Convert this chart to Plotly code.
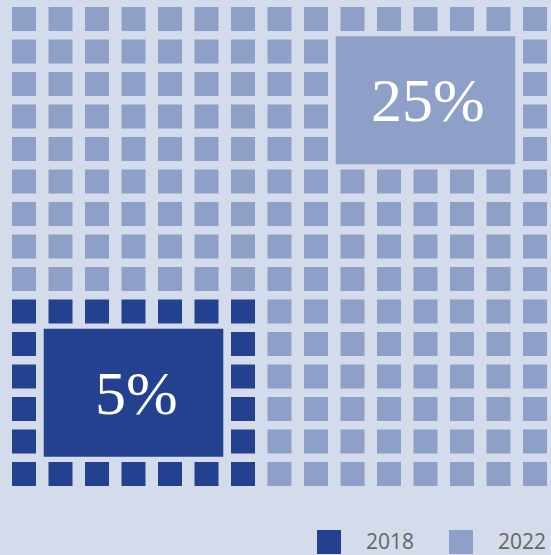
import plotly.graph_objects as go

# ---- data ----
years = ["2018", "2022"]
shares = [5, 25]               # percent labels
labels = ["5%", "25%"]
n_cols = 15
n_rows = 15
# unit blocks (column range, row range; rows counted from the top)
block_2018_cols = [0, 6]
block_2018_rows = [9, 14]
# label boxes (cell ranges)
box_2018_cols = [1, 5]
box_2018_rows = [10, 13]
box_2022_cols = [9, 13]
box_2022_rows = [1, 4]

# ---- style ----
BG = "#d4dbea"
DARK = "#23418f"
LIGHT = "#8fa0c8"
W, H = 551, 555

xs_dark, ys_dark, xs_light, ys_light = [], [], [], []
for r in range(n_rows):
    for c in range(n_cols):
        in18 = block_2018_cols[0] <= c <= block_2018_cols[1] and block_2018_rows[0] <= r <= block_2018_rows[1]
        if in18:
            xs_dark.append(c); ys_dark.append(r)
        else:
            xs_light.append(c); ys_light.append(r)

fig = go.Figure()
fig.add_trace(go.Scatter(x=xs_light, y=ys_light, mode="markers", name=years[1],
                         marker=dict(symbol="square", size=24, color=LIGHT, line=dict(width=0)),
                         hoverinfo="skip", showlegend=False))
fig.add_trace(go.Scatter(x=xs_dark, y=ys_dark, mode="markers", name=years[0],
                         marker=dict(symbol="square", size=24, color=DARK, line=dict(width=0)),
                         hoverinfo="skip", showlegend=False))

padx = 0.46
pady = 0.47
for cols, rows, col, lab in [(box_2018_cols, box_2018_rows, DARK, labels[0]),
                             (box_2022_cols, box_2022_rows, LIGHT, labels[1])]:
    fig.add_shape(type="rect", xref="x", yref="y",
                  x0=cols[0] - padx, x1=cols[1] + padx,
                  y0=rows[0] - pady, y1=rows[1] + pady,
                  fillcolor=col, line=dict(width=0), layer="above")
    fig.add_annotation(x=(cols[0] + cols[1]) / 2 + 0.08, y=(rows[0] + rows[1]) / 2,
                       xref="x", yref="y", text=lab, showarrow=False,
                       font=dict(family="Liberation Serif, DejaVu Serif, serif", size=62, color="white"))

# pixel mapping: col center = 24 + 36.5*c, row center = 19 + 32.5*r
xr = [(0 - 24) / 36.5, (W - 24) / 36.5]
yr = [(H - 19) / 32.5, (0 - 19) / 32.5]

# custom legend (large square swatches)
leg = [(years[0], DARK, 317), (years[1], LIGHT, 449)]
for name, col, px in leg:
    fig.add_shape(type="rect", xref="paper", yref="paper",
                  x0=px / W, x1=(px + 24) / W, y0=1 - 554 / H, y1=1 - 530 / H,
                  fillcolor=col, line=dict(width=0))
    fig.add_annotation(x=(px + 47) / W, y=1 - 541 / H, xref="paper", yref="paper",
                       xanchor="left", yanchor="middle", text=name, showarrow=False,
                       font=dict(family="Open Sans, sans-serif", size=21, color="#666666"))

fig.update_layout(width=W, height=H, margin=dict(l=0, r=0, t=0, b=0),
                  paper_bgcolor=BG, plot_bgcolor=BG, showlegend=False)
fig.update_xaxes(range=xr, visible=False, fixedrange=True)
fig.update_yaxes(range=yr, visible=False, fixedrange=True)

fig.write_html("out.html")
